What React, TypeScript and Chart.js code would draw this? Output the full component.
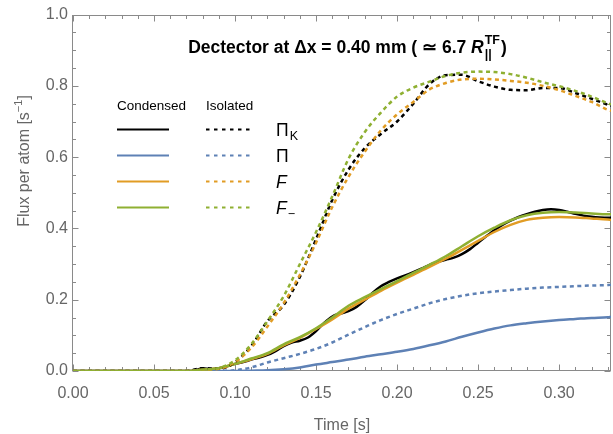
import React, { useEffect, useRef } from "react";
import { Chart, registerables } from "chart.js";
Chart.register(...registerables);

// ---------- data ----------
const TIME = [0, 0.01, 0.02, 0.03, 0.04, 0.05, 0.06, 0.07, 0.08, 0.09, 0.10, 0.11, 0.12, 0.13, 0.14, 0.15, 0.16, 0.17, 0.18, 0.19, 0.20, 0.21, 0.22, 0.23, 0.24, 0.25, 0.26, 0.27, 0.28, 0.29, 0.30, 0.31, 0.32, 0.33, 0.332];

const TIME_FINE = [0, 0.02, 0.04, 0.06, 0.07, 0.075, 0.08, 0.085, 0.09, 0.095, 0.1, 0.105, 0.11, 0.115, 0.12, 0.125, 0.13, 0.135, 0.14, 0.145, 0.15, 0.155, 0.16, 0.165, 0.17, 0.175, 0.18, 0.185, 0.19, 0.195, 0.2, 0.205, 0.21, 0.215, 0.22, 0.225, 0.23, 0.235, 0.24, 0.245, 0.25, 0.255, 0.26, 0.265, 0.27, 0.275, 0.28, 0.285, 0.29, 0.295, 0.3, 0.305, 0.31, 0.315, 0.32, 0.325, 0.33, 0.332];

// Condensed (solid)
const PIK_CONDENSED = [0, 0, 0, 0, 0, 0.001, 0.008, 0.005, 0.008, 0.013, 0.02, 0.025, 0.032, 0.038, 0.045, 0.056, 0.07, 0.08, 0.085, 0.094, 0.112, 0.135, 0.153, 0.161, 0.168, 0.18, 0.198, 0.22, 0.238, 0.25, 0.26, 0.268, 0.277, 0.287, 0.298, 0.306, 0.312, 0.318, 0.328, 0.342, 0.36, 0.378, 0.395, 0.41, 0.422, 0.432, 0.44, 0.447, 0.452, 0.454, 0.452, 0.447, 0.441, 0.436, 0.433, 0.431, 0.43, 0.43];
const PI_CONDENSED = [0, 0, 0, 0, 0, 0, 0, 0, 0, 0, 0, 0.001, 0.002, 0.005, 0.01, 0.018, 0.025, 0.032, 0.04, 0.047, 0.054, 0.062, 0.072, 0.083, 0.096, 0.108, 0.119, 0.128, 0.134, 0.139, 0.143, 0.146, 0.149, 0.151, 0.152];
const F_CONDENSED = [0, 0, 0, 0, 0, 0, 0, 0, 0.004, 0.008, 0.02, 0.033, 0.048, 0.072, 0.093, 0.118, 0.145, 0.175, 0.2, 0.225, 0.248, 0.27, 0.292, 0.315, 0.34, 0.365, 0.39, 0.41, 0.424, 0.43, 0.432, 0.431, 0.428, 0.425, 0.424];
const FM_CONDENSED = [0, 0, 0, 0, 0, 0, 0, 0, 0.004, 0.008, 0.02, 0.035, 0.05, 0.075, 0.095, 0.12, 0.15, 0.183, 0.207, 0.23, 0.252, 0.275, 0.298, 0.322, 0.35, 0.378, 0.402, 0.423, 0.437, 0.444, 0.446, 0.445, 0.442, 0.44, 0.44];

// Isolated (dashed)
const PIK_ISOLATED = [0, 0, 0, 0, 0, 0, 0, 0, 0.008, 0.006, 0.025, 0.07, 0.14, 0.185, 0.264, 0.37, 0.48, 0.565, 0.625, 0.665, 0.70, 0.75, 0.805, 0.83, 0.831, 0.813, 0.798, 0.789, 0.788, 0.794, 0.794, 0.78, 0.764, 0.747, 0.744];
const PI_ISOLATED = [0, 0, 0, 0, 0, 0, 0, 0, 0, 0, 0.002, 0.01, 0.024, 0.036, 0.048, 0.062, 0.08, 0.102, 0.123, 0.143, 0.16, 0.175, 0.19, 0.202, 0.211, 0.218, 0.223, 0.227, 0.231, 0.234, 0.236, 0.238, 0.24, 0.241, 0.242];
const F_ISOLATED = [0, 0, 0, 0, 0, 0, 0, 0, 0.003, 0.006, 0.025, 0.065, 0.125, 0.19, 0.27, 0.36, 0.46, 0.545, 0.615, 0.675, 0.72, 0.755, 0.79, 0.808, 0.818, 0.82, 0.818, 0.814, 0.809, 0.8, 0.788, 0.772, 0.755, 0.733, 0.73];
const FM_ISOLATED = [0, 0, 0, 0, 0, 0, 0, 0, 0.004, 0.008, 0.03, 0.075, 0.14, 0.21, 0.30, 0.39, 0.49, 0.595, 0.67, 0.725, 0.77, 0.795, 0.812, 0.828, 0.837, 0.84, 0.839, 0.833, 0.823, 0.81, 0.799, 0.786, 0.77, 0.751, 0.748];

const X_TICKS = [0, 0.05, 0.1, 0.15, 0.2, 0.25, 0.3];
const Y_TICKS = [0, 0.2, 0.4, 0.6, 0.8, 1.0];
const X_MINOR = [0.01, 0.02, 0.03, 0.04, 0.06, 0.07, 0.08, 0.09, 0.11, 0.12, 0.13, 0.14, 0.16, 0.17, 0.18, 0.19, 0.21, 0.22, 0.23, 0.24, 0.26, 0.27, 0.28, 0.29, 0.31, 0.32, 0.33];
const Y_MINOR = [0.05, 0.1, 0.15, 0.25, 0.3, 0.35, 0.45, 0.5, 0.55, 0.65, 0.7, 0.75, 0.85, 0.9, 0.95];

const X_MAX = 0.332;

const BLACK = "#000000";
const BLUE = "#5e81b5";
const ORANGE = "#e19c24";
const GREEN = "#8fb032";
const FRAME = "#8a8a8a";
const LABEL = "#666666";
const FONT = '"Liberation Sans", Arial, sans-serif';

const LEGEND_ROWS = [
  { color: BLACK, main: "Π", sub: "K", italic: false },
  { color: BLUE, main: "Π", sub: "", italic: false },
  { color: ORANGE, main: "F", sub: "", italic: true },
  { color: GREEN, main: "F", sub: "−", italic: true },
];

const DASH = [4, 3.5];

function series(xs: number[], ys: number[]) {
  return xs.map((x, i) => ({ x, y: ys[i] }));
}

const decorPlugin = {
  id: "decor",
  beforeDatasetsDraw(chart: any) {
    const { ctx, chartArea: a, scales } = chart;
    const xs = scales.x;
    const ys = scales.y;
    ctx.save();
    ctx.strokeStyle = FRAME;
    ctx.lineWidth = 1;
    const L = Math.round(a.left) - 0.5;
    const R = Math.round(a.right) - 0.5;
    const T = Math.round(a.top) + 0.5;
    const B = Math.round(a.bottom) - 0.5;
    ctx.strokeRect(L, T, R - L, B - T);
    ctx.beginPath();
    const xt = (v: number, len: number) => {
      const p = Math.round(xs.getPixelForValue(v)) + 0.5;
      ctx.moveTo(p, B);
      ctx.lineTo(p, B - len);
      ctx.moveTo(p, T);
      ctx.lineTo(p, T + len);
    };
    const yt = (v: number, len: number) => {
      const p = Math.round(ys.getPixelForValue(v)) + 0.5;
      ctx.moveTo(L, p);
      ctx.lineTo(L + len, p);
      ctx.moveTo(R, p);
      ctx.lineTo(R - len, p);
    };
    X_TICKS.forEach((v) => xt(v, 6));
    X_MINOR.forEach((v) => xt(v, 3.5));
    Y_TICKS.forEach((v) => yt(v, 6));
    Y_MINOR.forEach((v) => yt(v, 3.5));
    ctx.stroke();
    ctx.restore();
  },
  afterDraw(chart: any) {
    const { ctx, chartArea: a } = chart;
    ctx.save();
    // ---- title ----
    ctx.fillStyle = "#000";
    ctx.textBaseline = "alphabetic";
    ctx.textAlign = "left";
    const tBase = 53;
    const big = `bold 17.5px ${FONT}`;
    const bigIt = `italic bold 17.5px ${FONT}`;
    const small = `bold 12.5px ${FONT}`;
    const s1 = "Dectector at Δx = 0.40 mm ( ≃ 6.7 ";
    ctx.font = big;
    const w1 = ctx.measureText(s1).width;
    ctx.font = bigIt;
    const wR = ctx.measureText("R").width;
    ctx.font = small;
    const wTF = ctx.measureText("TF").width;
    ctx.font = big;
    const wP = ctx.measureText(")").width;
    const total = w1 + wR + 1 + wTF + 1 + wP;
    let x = 347.5 - total / 2;
    ctx.font = big;
    ctx.fillText(s1, x, tBase);
    x += w1;
    ctx.font = bigIt;
    ctx.fillText("R", x, tBase);
    x += wR + 1;
    ctx.font = small;
    ctx.fillText("TF", x, tBase - 9);
    ctx.fillText("||", x, tBase + 5);
    x += wTF + 1;
    ctx.font = big;
    ctx.fillText(")", x, tBase);

    // ---- legend ----
    ctx.font = `13.5px ${FONT}`;
    ctx.fillText("Condensed", 117, 110);
    ctx.fillText("Isolated", 206, 110);
    LEGEND_ROWS.forEach((row, i) => {
      const y = 129.5 + i * 26;
      ctx.strokeStyle = row.color;
      ctx.lineWidth = 2;
      ctx.setLineDash([]);
      ctx.beginPath();
      ctx.moveTo(117, y);
      ctx.lineTo(169, y);
      ctx.stroke();
      ctx.setLineDash([3.5, 4.5]);
      ctx.beginPath();
      ctx.moveTo(206, y);
      ctx.lineTo(254, y);
      ctx.stroke();
      ctx.setLineDash([]);
      ctx.fillStyle = "#000";
      ctx.font = `${row.italic ? "italic " : ""}17.5px ${FONT}`;
      ctx.fillText(row.main, 276, y + 6);
      const wm = ctx.measureText(row.main).width;
      if (row.sub) {
        ctx.font = `12.5px ${FONT}`;
        ctx.fillText(row.sub, 276 + wm + 1, y + 10);
      }
    });

    // ---- axis titles ----
    ctx.fillStyle = LABEL;
    ctx.font = `16px ${FONT}`;
    ctx.textAlign = "center";
    ctx.fillText("Time [s]", (a.left + a.right) / 2, 430);

    ctx.translate(29, 161);
    ctx.rotate(-Math.PI / 2);
    ctx.textAlign = "left";
    const p1 = "Flux per atom [s";
    const p2 = "−1";
    const p3 = "]";
    ctx.font = `16px ${FONT}`;
    const q1 = ctx.measureText(p1).width;
    const q3 = ctx.measureText(p3).width;
    ctx.font = `11px ${FONT}`;
    const q2 = ctx.measureText(p2).width;
    let sx = -(q1 + q2 + q3) / 2;
    ctx.font = `16px ${FONT}`;
    ctx.fillText(p1, sx, 0);
    sx += q1;
    ctx.font = `11px ${FONT}`;
    ctx.fillText(p2, sx, -7);
    sx += q2;
    ctx.font = `16px ${FONT}`;
    ctx.fillText(p3, sx, 0);
    ctx.restore();
  },
};

export default function App() {
  const ref = useRef<HTMLCanvasElement | null>(null);
  useEffect(() => {
    if (!ref.current) return;
    const mk = (label: string, xs: number[], ys: number[], color: string, dashed: boolean, order: number) => ({
      label,
      data: series(xs, ys),
      borderColor: color,
      backgroundColor: color,
      borderWidth: 2.5,
      borderDash: dashed ? DASH : [],
      pointRadius: 0,
      fill: false,
      cubicInterpolationMode: "monotone" as const,
      order,
    });
    const chart = new Chart(ref.current, {
      type: "line",
      data: {
        datasets: [
          mk("Π_K condensed", TIME_FINE, PIK_CONDENSED, BLACK, false, 8),
          mk("Π condensed", TIME, PI_CONDENSED, BLUE, false, 7),
          mk("F condensed", TIME, F_CONDENSED, ORANGE, false, 6),
          mk("F− condensed", TIME, FM_CONDENSED, GREEN, false, 5),
          mk("Π_K isolated", TIME, PIK_ISOLATED, BLACK, true, 4),
          mk("Π isolated", TIME, PI_ISOLATED, BLUE, true, 3),
          mk("F isolated", TIME, F_ISOLATED, ORANGE, true, 2),
          mk("F− isolated", TIME, FM_ISOLATED, GREEN, true, 1),
        ],
      },
      options: {
        animation: false,
        responsive: false,
        devicePixelRatio: 1,
        parsing: true,
        layout: { padding: { top: 13.5, right: 2, left: 0, bottom: 0 } },
        plugins: { legend: { display: false }, tooltip: { enabled: false }, title: { display: false } },
        scales: {
          x: {
            type: "linear",
            min: 0,
            max: X_MAX,
            grid: { display: false, drawTicks: false },
            border: { display: false },
            afterBuildTicks: (s: any) => {
              s.ticks = X_TICKS.map((v) => ({ value: v }));
            },
            afterFit: (s: any) => {
              s.height = 63;
            },
            ticks: {
              autoSkip: false,
              maxRotation: 0,
              padding: 13,
              color: LABEL,
              font: { family: FONT, size: 16 },
              callback: (v: any) => Number(v).toFixed(2),
            },
          },
          y: {
            type: "linear",
            min: 0,
            max: 1,
            grid: { display: false, drawTicks: false },
            border: { display: false },
            afterBuildTicks: (s: any) => {
              s.ticks = Y_TICKS.map((v) => ({ value: v }));
            },
            afterFit: (s: any) => {
              s.width = 73;
            },
            ticks: {
              autoSkip: false,
              padding: 5,
              color: LABEL,
              font: { family: FONT, size: 16 },
              callback: (v: any) => Number(v).toFixed(1),
            },
          },
        },
      },
      plugins: [decorPlugin],
    } as any);
    return () => chart.destroy();
  }, []);
  return (
    <div style={{ position: "absolute", left: 0, top: 0, width: 613, height: 434, background: "#fff" }}>
      <canvas ref={ref} width={613} height={434} style={{ width: 613, height: 434, display: "block" }} />
    </div>
  );
}
